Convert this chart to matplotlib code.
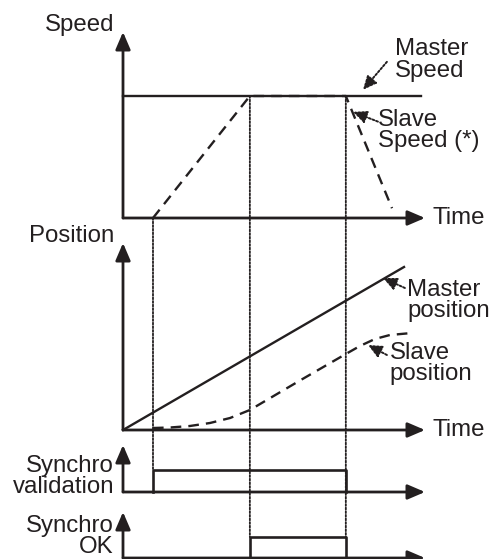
"""
Timing diagram: master/slave speed and position, synchro signals.
"""

import matplotlib

matplotlib.use("Agg")
import matplotlib.pyplot as plt
from matplotlib.patches import ConnectionPatch

plt.rcParams["font.family"] = ["Liberation Sans", "DejaVu Sans"]

W, H = 496, 559
INK = "#231f20"

# time marks: synchro start, speed lock, synchro end
T_MARKS = [1.0, 4.23, 7.43]
T_AXIS_END = 10.07

MASTER_SPEED_T = [0.0, 9.93]
MASTER_SPEED = [1.0, 1.0]
SLAVE_SPEED_T = [1.0, 4.23, 7.43, 8.97]
SLAVE_SPEED = [0.0, 1.0, 1.0, 0.08]

MASTER_POS_T = [0.0, 9.37]
MASTER_POS = [0.0, 1.63]
SLAVE_POS_T = [1.0, 1.57, 2.23, 2.9, 3.57, 4.23, 5.9, 7.43, 7.9, 8.4, 8.9, 9.63]
SLAVE_POS = [0.02, 0.025, 0.04, 0.07, 0.12, 0.20, 0.495, 0.76, 0.84, 0.91, 0.95, 0.97]

VALID_T = [1.0, 1.0, 7.43, 7.43]
VALID_LEVEL = [0, 1, 1, 0]
OK_T = [4.23, 4.23, 7.43, 7.43]
OK_LEVEL = [0, 1, 1, 0]

FS = 17.3
LS = 0.97


def panel(fig, top_px, base_px, ymax):
    # axes spanning x 123..425 px, y from arrow tip to baseline
    ax = fig.add_axes([123 / W, 1 - base_px / H, (425 - 123) / W, (base_px - top_px) / H])
    ax.set_xlim(0, T_AXIS_END)
    ax.set_ylim(0, ymax)
    ax.axis("off")
    head = dict(arrowstyle="-|>,head_length=0.7,head_width=0.3", lw=2.0,
                color=INK, mutation_scale=15, shrinkA=0, shrinkB=0)
    ax.annotate("", xy=(0, 1), xytext=(0, 0), xycoords="axes fraction", arrowprops=head)
    ax.annotate("", xy=(1, 0), xytext=(0, 0), xycoords="axes fraction", arrowprops=head)
    return ax


def note(ax, text, xy, xytext, textpos):
    ax.annotate("", xy=xy, xytext=xytext,
                arrowprops=dict(arrowstyle="-|>,head_length=0.55,head_width=0.25",
                                lw=1.4, ls=(0, (1, 1)), color=INK,
                                mutation_scale=15, shrinkA=0, shrinkB=0))
    # baseline of the last line sits at textpos
    ax.text(*textpos, text, fontsize=FS, color=INK, ha="left", va="baseline",
            linespacing=LS)


fig = plt.figure(figsize=(W / 100, H / 100), dpi=100)

ax_speed = panel(fig, 32, 218, 186 / 122)
ax_pos = panel(fig, 243, 430, 187 / 100)
ax_valid = panel(fig, 445, 492, 47 / 22)
ax_ok = panel(fig, 512, 558, 46 / 21)

dash = (0, (4.5, 3))

# speed
ax_speed.plot(MASTER_SPEED_T, MASTER_SPEED, color=INK, lw=1.7, clip_on=False)
ax_speed.plot(SLAVE_SPEED_T, SLAVE_SPEED, color=INK, lw=1.7, ls=dash, clip_on=False)

# position
ax_pos.plot(MASTER_POS_T, MASTER_POS, color=INK, lw=1.7, clip_on=False)
ax_pos.plot(SLAVE_POS_T, SLAVE_POS, color=INK, lw=1.7, ls=dash, clip_on=False)

# synchro signals
ax_valid.plot(VALID_T, VALID_LEVEL, color=INK, lw=1.9, clip_on=False)
ax_ok.plot(OK_T, OK_LEVEL, color=INK, lw=1.9, clip_on=False)

# dotted time markers across panels
marker_spans = [
    (ax_speed, 0.0, ax_valid, 1.0),
    (ax_speed, 1.0, ax_ok, 1.0),
    (ax_speed, 1.0, ax_ok, 1.0),
]
for t, (ax_a, ya, ax_b, yb) in zip(T_MARKS, marker_spans):
    con = ConnectionPatch(xyA=(t, ya), coordsA=ax_a.transData,
                          xyB=(t, yb), coordsB=ax_b.transData,
                          color=INK, lw=1.3, ls=(0, (1, 1)))
    fig.add_artist(con)

# axis titles (baseline of last line)
fig.text(114 / W, 1 - 31 / H, "Speed", fontsize=FS, color=INK, ha="right", va="baseline")
fig.text(114 / W, 1 - 242 / H, "Position", fontsize=FS, color=INK, ha="right", va="baseline")
fig.text(114 / W, 1 - 493 / H, "Synchro\nvalidation", fontsize=FS, color=INK,
         ha="right", va="baseline", linespacing=LS)
fig.text(114 / W, 1 - 553 / H, "Synchro\nOK", fontsize=FS, color=INK,
         ha="right", va="baseline", linespacing=LS)
for ax in (ax_speed, ax_pos):
    ax.text(1.0 + 7 / 302, 0.0, "Time", transform=ax.transAxes, fontsize=FS,
            color=INK, ha="left", va="center")

# curve labels
note(ax_speed, "Master\nSpeed", xy=(8.0, 1.05), xytext=(8.8, 1.28), textpos=(9.07, 1.156))
note(ax_speed, "Slave\nSpeed (*)", xy=(7.67, 0.87), xytext=(8.5, 0.79), textpos=(8.5, 0.58))
note(ax_pos, "Master\nposition", xy=(8.67, 1.52), xytext=(9.4, 1.42), textpos=(9.47, 1.13))
note(ax_pos, "Slave\nposition", xy=(8.17, 0.85), xytext=(8.8, 0.75), textpos=(8.9, 0.50))

fig.savefig("out.png", dpi=100)
